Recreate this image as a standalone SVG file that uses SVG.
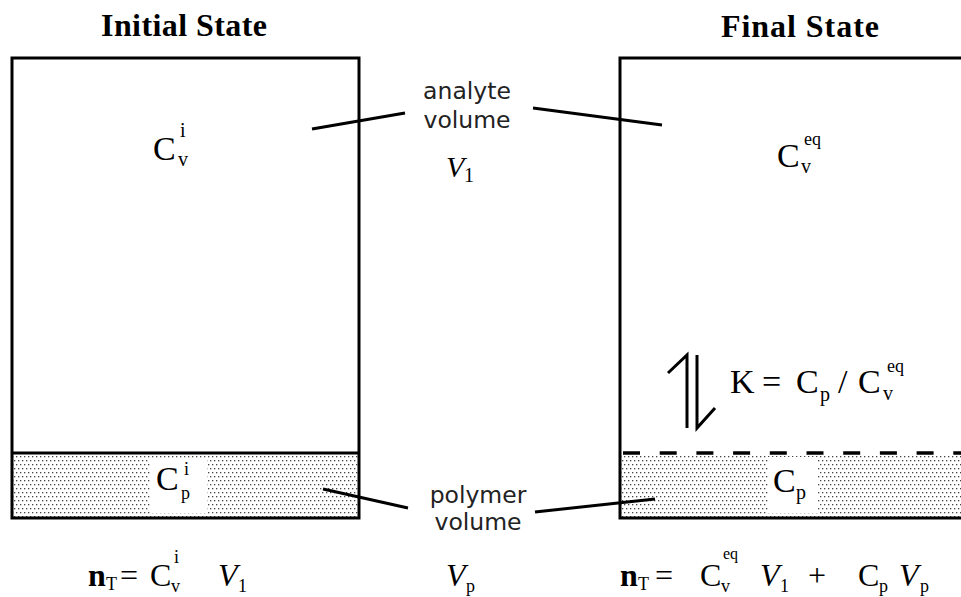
<svg xmlns="http://www.w3.org/2000/svg" width="961" height="597" viewBox="0 0 961 597">
  <defs>
    <pattern id="stipple" patternUnits="userSpaceOnUse" width="4" height="8">
      <rect x="0" y="0" width="1.3" height="1.3" fill="#444"/>
      <rect x="2" y="4" width="1.3" height="1.3" fill="#444"/>
    </pattern>
  </defs>
  <style>
    .title { font-family: "Liberation Serif", "Times New Roman", serif; font-weight: bold; font-size: 32px; fill: #000; }
    .sans { font-family: "DejaVu Sans", "Verdana", sans-serif; font-size: 23.5px; fill: #222; }
    .ser { font-family: "Liberation Serif", "Times New Roman", serif; fill: #000; }
    .big { font-size: 34px; }
    .mid { font-size: 32px; }
    .sub { font-size: 20px; }
    .sm { font-size: 18px; }
    .it { font-style: italic; }
    .bold { font-weight: bold; }
    .box { fill: none; stroke: #000; stroke-width: 3; }
    .lead { fill: none; stroke: #000; stroke-width: 3; }
  </style>

  <rect x="0" y="0" width="961" height="597" fill="#fff"/>

  <g id="title-initial">
    <text class="title" x="184" y="36" text-anchor="middle" textLength="166" lengthAdjust="spacing">Initial State</text>
  </g>
  <g id="title-final">
    <text class="title" x="800" y="37" text-anchor="middle" textLength="158" lengthAdjust="spacing">Final State</text>
  </g>

  <g id="box-initial">
    <rect x="13" y="453" width="346" height="65" fill="url(#stipple)"/>
    <rect x="150" y="458" width="57" height="55" fill="#fff"/>
    <rect class="box" x="12" y="58" width="347" height="460"/>
    <line class="box" x1="12" y1="453" x2="359" y2="453"/>
    <text class="ser big" x="153" y="160">C</text>
    <text class="ser sub" x="178" y="166">v</text>
    <text class="ser sub" x="180" y="137">i</text>
    <text class="ser big" x="156" y="490">C</text>
    <text class="ser sm" x="181" y="499">p</text>
    <text class="ser sm" x="184" y="475">i</text>
  </g>

  <g id="box-final">
    <rect x="621" y="455" width="340" height="63" fill="url(#stipple)"/>
    <rect x="768" y="457" width="50" height="56" fill="#fff"/>
    <path class="box" d="M963,58 H620 V518 H963"/>
    <line x1="623" y1="453" x2="961" y2="453" stroke="#000" stroke-width="3.5" stroke-dasharray="17 19.7"/>
    <text class="ser big" x="777" y="167">C</text>
    <text class="ser sub" x="801" y="173">v</text>
    <text class="ser sm" x="804" y="145">eq</text>
    <text class="ser big" x="773" y="492">C</text>
    <text class="ser sub" x="796" y="499">p</text>
  </g>

  <g id="equilibrium">
    <path class="lead" d="M687,428 V355 L668,373"/>
    <path class="lead" d="M697,355 V428 L715,408"/>
    <text class="ser big" x="730" y="393">K</text>
    <text class="ser big" x="762" y="393">=</text>
    <text class="ser big" x="796" y="393">C</text>
    <text class="ser sub" x="820" y="401">p</text>
    <text class="ser big" x="838" y="393">/</text>
    <text class="ser big" x="858" y="393">C</text>
    <text class="ser sub" x="883" y="400">v</text>
    <text class="ser sm" x="887" y="372">eq</text>
  </g>

  <g id="label-analyte">
    <text class="sans" x="467" y="99" text-anchor="middle">analyte</text>
    <text class="sans" x="467" y="128" text-anchor="middle">volume</text>
    <text class="ser it" font-size="30" x="446" y="177">V</text>
    <text class="ser sub" x="464" y="182">1</text>
  </g>

  <g id="label-polymer">
    <text class="sans" x="478" y="503" text-anchor="middle">polymer</text>
    <text class="sans" x="478" y="530" text-anchor="middle">volume</text>
    <text class="ser it mid" x="446" y="586">V</text>
    <text class="ser sm" x="466" y="592">p</text>
  </g>

  <g id="formula-initial">
    <text class="ser bold mid" x="88" y="586">n</text>
    <text class="ser sm" x="106" y="590">T</text>
    <text class="ser mid" x="120" y="586">=</text>
    <text class="ser mid" x="150" y="586">C</text>
    <text class="ser sm" x="171" y="592">v</text>
    <text class="ser sm" x="174" y="563">i</text>
    <text class="ser it mid" x="218" y="586">V</text>
    <text class="ser sm" x="238" y="592">1</text>
  </g>

  <g id="formula-final">
    <text class="ser bold mid" x="620" y="586">n</text>
    <text class="ser sm" x="638" y="590">T</text>
    <text class="ser mid" x="655" y="586">=</text>
    <text class="ser mid" x="700" y="586">C</text>
    <text class="ser sm" x="721" y="592">v</text>
    <text class="ser" font-size="16" x="723" y="559">eq</text>
    <text class="ser it mid" x="760" y="586">V</text>
    <text class="ser sm" x="780" y="592">1</text>
    <text class="ser mid" x="808" y="586">+</text>
    <text class="ser mid" x="858" y="586">C</text>
    <text class="ser sm" x="879" y="592">p</text>
    <text class="ser it mid" x="899" y="586">V</text>
    <text class="ser sm" x="920" y="592">p</text>
  </g>

  <g id="connectors">
    <line class="lead" x1="312" y1="129" x2="405" y2="113"/>
    <line class="lead" x1="533" y1="108" x2="662" y2="125"/>
    <line class="lead" x1="323" y1="489" x2="408" y2="508"/>
    <line class="lead" x1="535" y1="512" x2="655" y2="499"/>
  </g>
</svg>
